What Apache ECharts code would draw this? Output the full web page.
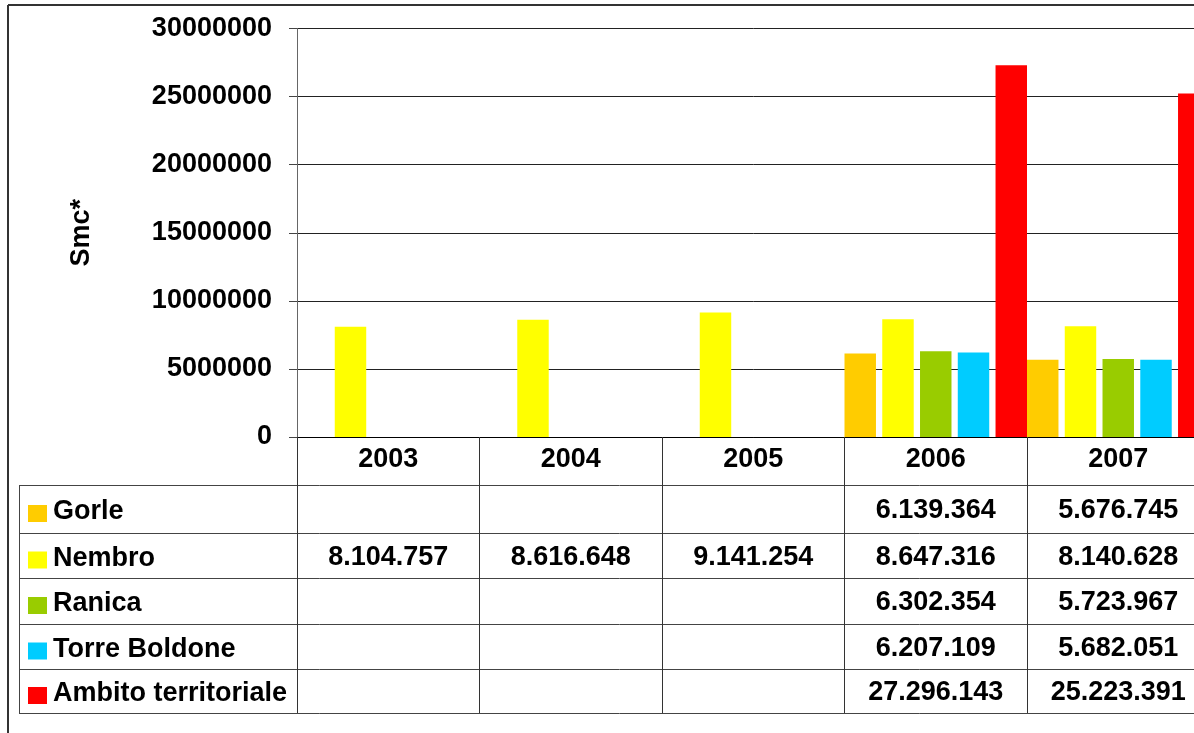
<!DOCTYPE html>
<html>
<head>
<meta charset="utf-8">
<script src="https://cdn.jsdelivr.net/npm/echarts@6/dist/echarts.min.js"></script>
<style>
  html, body { margin: 0; padding: 0; background: #fff; overflow: hidden; }
  /* the canvas is wider than the page: the last group of bars is cut at the right edge */
  #chart { width: 1220px; height: 733px; }
</style>
</head>
<body>
<div id="chart"></div>
<script>
// Gas consumption (Smc*) per municipality and for the whole district
const years = ['2003', '2004', '2005', '2006', '2007'];
const gorle = [null, null, null, 6139364, 5676745];
const nembro = [8104757, 8616648, 9141254, 8647316, 8140628];
const ranica = [null, null, null, 6302354, 5723967];
const torreBoldone = [null, null, null, 6207109, 5682051];
const ambito = [null, null, null, 27296143, 25223391];
const yTicks = [0, 5000000, 10000000, 15000000, 20000000, 25000000, 30000000];

const seriesDefs = [
  { name: 'Gorle', data: gorle, color: '#FFCC00' },
  { name: 'Nembro', data: nembro, color: '#FFFF00' },
  { name: 'Ranica', data: ranica, color: '#99CC00' },
  { name: 'Torre Boldone', data: torreBoldone, color: '#00CCFF' },
  { name: 'Ambito territoriale', data: ambito, color: '#FF0000' }
];

const FONT = '"Liberation Sans", Arial, sans-serif';
const FS = 27;

function fmt(v) {
  return String(v).replace(/\B(?=(\d{3})+(?!\d))/g, '.');
}

const chart = echarts.init(document.getElementById('chart'), null, { renderer: 'canvas' });

const W = 1220, H = 733;
const PLOT_TOP = 28.5, PLOT_BOTTOM = 437, PLOT_LEFT = 297, CAT_W = 182.5;
const TABLE_BOTTOM = 713;

chart.setOption({
  animation: false,
  backgroundColor: '#fff',
  grid: {
    left: PLOT_LEFT,
    top: PLOT_TOP,
    width: CAT_W * years.length,
    height: PLOT_BOTTOM - PLOT_TOP,
    containLabel: false
  },
  xAxis: {
    type: 'category',
    data: years,
    boundaryGap: true,
    axisLine: { show: true, lineStyle: { color: '#000', width: 1 } },
    axisTick: {
      show: true,
      inside: false,
      length: TABLE_BOTTOM - PLOT_BOTTOM,
      lineStyle: { color: '#333', width: 1 }
    },
    axisLabel: {
      show: true,
      margin: 23,
      verticalAlign: 'middle',
      color: '#000',
      fontFamily: FONT,
      fontWeight: 'bold',
      fontSize: FS
    },
    splitLine: { show: false }
  },
  yAxis: {
    type: 'value',
    min: yTicks[0],
    max: yTicks[yTicks.length - 1],
    interval: yTicks[1] - yTicks[0],
    name: 'Smc*',
    nameLocation: 'middle',
    nameRotate: 90,
    nameGap: 202,
    nameTextStyle: { color: '#000', fontFamily: FONT, fontWeight: 'bold', fontSize: FS },
    axisLine: { show: true, lineStyle: { color: '#666', width: 1 } },
    axisTick: { show: true, length: 8, lineStyle: { color: '#444' } },
    axisLabel: {
      margin: 25,
      color: '#000',
      fontFamily: FONT,
      fontWeight: 'bold',
      fontSize: FS,
      formatter: v => String(v)
    },
    splitLine: { show: true, lineStyle: { color: '#222', width: 1 } }
  },
  series: seriesDefs.map(s => ({
    name: s.name,
    type: 'bar',
    data: s.data,
    barGap: '20%',
    barCategoryGap: '0%',
    itemStyle: { color: s.color },
    emphasis: { disabled: true }
  }))
});

// Data table under the plot: rows, swatches, names and values
const rowLines = [485, 533, 578, 624, 669, 713];
const TABLE_LEFT = 19;
const graphics = [];

// outer frame
graphics.push({ type: 'line', shape: { x1: 8, y1: 5, x2: W, y2: 5 }, style: { stroke: '#333', lineWidth: 2 } });
graphics.push({ type: 'line', shape: { x1: 8, y1: 5, x2: 8, y2: H }, style: { stroke: '#333', lineWidth: 2 } });

rowLines.forEach(y => {
  graphics.push({
    type: 'line',
    shape: { x1: TABLE_LEFT, y1: y + 0.5, x2: W, y2: y + 0.5 },
    style: { stroke: '#444', lineWidth: 1 }
  });
});
graphics.push({
  type: 'line',
  shape: { x1: TABLE_LEFT + 0.5, y1: rowLines[0], x2: TABLE_LEFT + 0.5, y2: rowLines[rowLines.length - 1] },
  style: { stroke: '#444', lineWidth: 1 }
});

seriesDefs.forEach((s, i) => {
  const cy = (rowLines[i] + rowLines[i + 1]) / 2;
  graphics.push({
    type: 'rect',
    shape: { x: 28, y: cy - 4, width: 19, height: 17 },
    style: { fill: s.color }
  });
  graphics.push({
    type: 'text',
    x: 53, y: cy + 3,
    style: {
      text: s.name, fill: '#000', font: 'bold ' + FS + 'px ' + FONT,
      textAlign: 'left', textVerticalAlign: 'middle'
    }
  });
  s.data.forEach((v, j) => {
    if (v == null) return;
    const cx = chart.convertToPixel({ xAxisIndex: 0 }, years[j]);
    graphics.push({
      type: 'text',
      x: cx, y: cy + 2,
      style: {
        text: fmt(v), fill: '#000', font: 'bold ' + FS + 'px ' + FONT,
        textAlign: 'center', textVerticalAlign: 'middle'
      }
    });
  });
});

chart.setOption({ graphic: graphics });
</script>
</body>
</html>
